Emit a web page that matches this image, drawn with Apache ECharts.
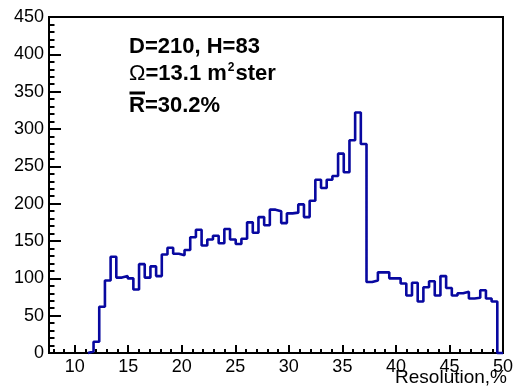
<!DOCTYPE html>
<html>
<head>
<meta charset="utf-8">
<script src="https://cdn.jsdelivr.net/npm/echarts@6/dist/echarts.min.js"></script>
<style>
  html, body { margin: 0; padding: 0; background: #fff; }
  #main { width: 516px; height: 389px; }
</style>
</head>
<body>
<div id="main"></div>
<script>
var dom = document.getElementById('main');
var myChart = echarts.init(dom);

// histogram: counts per bin, bins run from binStart to binEnd
var binStart = 11.23;
var binEnd = 50;
var counts = [2, 15, 62, 97, 129, 101, 103, 100, 85, 119,
              101, 116, 103, 132, 141, 133, 131, 138, 155, 165,
              144, 152, 157, 147, 166, 152, 146, 153, 175, 161,
              182, 171, 192, 190, 174, 187, 188, 199, 182, 204,
              232, 221, 232, 237, 267, 242, 285, 322, 280, 95,
              97, 108, 108, 100, 100, 93, 77, 94, 69, 88,
              96, 77, 103, 87, 77, 80, 82, 73, 74, 84,
              73, 69, 0];

var xMajor = [10, 15, 20, 25, 30, 35, 40, 45, 50];
var xMinor = [8, 9, 11, 12, 13, 14, 16, 17, 18, 19, 21, 22, 23, 24, 26, 27, 28, 29,
              31, 32, 33, 34, 36, 37, 38, 39, 41, 42, 43, 44, 46, 47, 48, 49];

var binWidth = (binEnd - binStart) / counts.length;
var outline = [[binStart, 0]];
for (var i = 0; i < counts.length; i++) {
    outline.push([binStart + i * binWidth, counts[i]]);
}
outline.push([binEnd, counts[counts.length - 1]]);
outline.push([binEnd, 0]);

var font = '"Liberation Sans", Arial, Helvetica, sans-serif';

option = {
    animation: false,
    grid: {
        left: 49,
        right: 7.5,
        top: 17,
        bottom: 36,
        show: true,
        borderColor: '#000',
        borderWidth: 2,
        backgroundColor: 'transparent'
    },
    xAxis: [
        {
            type: 'value',
            min: 7.6,
            max: 50,
            axisLine: { show: false },
            splitLine: { show: false },
            axisTick: {
                show: true,
                inside: true,
                length: 8,
                customValues: xMajor,
                lineStyle: { color: '#000', width: 2 }
            },
            axisLabel: {
                customValues: xMajor,
                color: '#000',
                fontFamily: font,
                fontSize: 18,
                margin: 5
            }
        },
        {
            type: 'value',
            min: 7.6,
            max: 50,
            position: 'bottom',
            axisLine: { show: false },
            splitLine: { show: false },
            axisTick: {
                show: true,
                inside: true,
                length: 4,
                customValues: xMinor,
                lineStyle: { color: '#000', width: 2 }
            },
            axisLabel: { show: false }
        }
    ],
    yAxis: {
        type: 'value',
        min: 0,
        max: 450,
        interval: 50,
        axisLine: { show: false },
        splitLine: { show: false },
        axisTick: {
            show: true,
            inside: true,
            length: 12,
            lineStyle: { color: '#000', width: 2 }
        },
        minorTick: {
            show: true,
            splitNumber: 5,
            length: 5.5,
            lineStyle: { color: '#000', width: 2 }
        },
        axisLabel: {
            color: '#000',
            fontFamily: font,
            fontSize: 18,
            margin: 5
        }
    },
    graphic: [
        {
            type: 'text',
            left: 129,
            top: 36,
            style: {
                text: 'D=210, H=83',
                fontFamily: font,
                fontWeight: 'bold',
                fontSize: 22,
                fill: '#000'
            }
        },
        {
            type: 'text',
            left: 129,
            top: 62,
            style: {
                text: '{o|Ω}{b|=13.1 m}{s|2}{b|ster}',
                fill: '#000',
                rich: {
                    o: { fontFamily: font, fontSize: 22, fontWeight: 'normal', fill: '#000' },
                    b: { fontFamily: font, fontSize: 22, fontWeight: 'bold', fill: '#000' },
                    s: { fontFamily: font, fontSize: 12, fontWeight: 'bold', fill: '#000', padding: [0, 1, 11, 1] }
                }
            }
        },
        {
            type: 'text',
            left: 129,
            top: 95,
            style: {
                text: 'R=30.2%',
                fontFamily: font,
                fontWeight: 'bold',
                fontSize: 22,
                fill: '#000'
            }
        },
        {
            type: 'rect',
            shape: { x: 129.5, y: 91.5, width: 15.5, height: 3 },
            style: { fill: '#000' }
        },
        {
            type: 'text',
            right: 9,
            top: 368,
            style: {
                text: 'Resolution,%',
                fontFamily: font,
                fontSize: 19,
                fill: '#000'
            }
        }
    ],
    series: [
        {
            name: 'Resolution',
            type: 'line',
            step: 'end',
            symbol: 'none',
            clip: false,
            data: outline,
            lineStyle: { color: '#0808a0', width: 2.6 },
            z: 3
        }
    ]
};

if (option && typeof option === 'object') {
    myChart.setOption(option, true);
}
</script>
</body>
</html>
